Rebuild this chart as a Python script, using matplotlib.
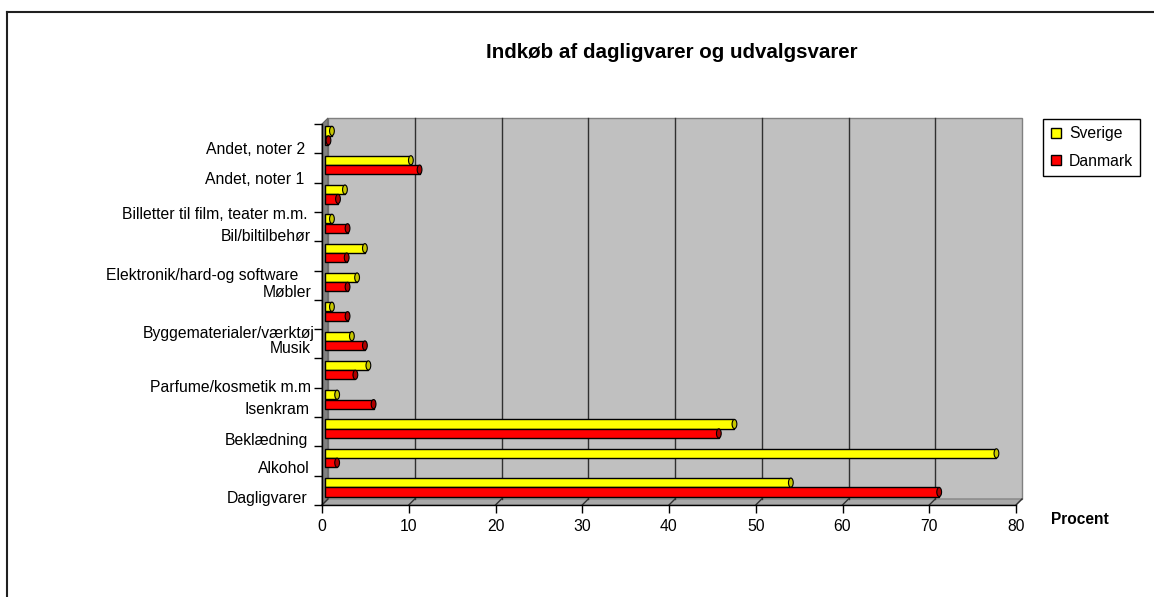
import numpy as np
import matplotlib
matplotlib.use("Agg")
import matplotlib.pyplot as plt
from matplotlib.patches import Rectangle, Polygon, Ellipse
from matplotlib.lines import Line2D
from matplotlib.transforms import ScaledTranslation, offset_copy

plt.rcParams['font.family'] = ['Liberation Sans', 'DejaVu Sans']

# categories, bottom to top
categories = ['Dagligvarer', 'Alkohol', 'Beklædning', 'Isenkram',
              'Parfume/kosmetik m.m', 'Musik', 'Byggematerialer/værktøj',
              'Møbler', 'Elektronik/hard-og software', 'Bil/biltilbehør',
              'Billetter til film, teater m.m.', 'Andet, noter 1', 'Andet, noter 2']
sverige = [53.7, 77.4, 47.2, 1.4, 5.0, 3.1, 0.8, 3.7, 4.6, 0.8, 2.3, 9.9, 0.8]
danmark = [70.8, 1.4, 45.4, 5.6, 3.5, 4.6, 2.6, 2.6, 2.5, 2.6, 1.5, 10.9, 0.4]
x_ticks = [0, 10, 20, 30, 40, 50, 60, 70, 80]

# label placement quirks (pixels): gap left of axis, shift down from category centre
label_gap = [15, 12, 14, 12, 11, 11, 7, 10, 24, 11, 15, 18, 17]
label_drop = [8, 7.5, 8.5, 7, 14.5, 5, 19, 7.5, 19.5, 10, 17.5, 12, 10.5]

W, H = 1154, 597
def fx(px):
    return px / W
def fy(py):
    return 1 - py / H

fig = plt.figure(figsize=(W / 100, H / 100), dpi=100)
ax = fig.add_axes([fx(322), fy(505), fx(1016) - fx(322), fy(124) - fy(505)])
ax.set_xlim(0, 80)
ax.set_ylim(-0.5, len(categories) - 0.5)
ax.patch.set_visible(False)

# 3d depth in axes fraction
dx = 6 / 694
dy = 6 / 381

# walls and floor
ax.add_patch(Rectangle((dx, dy), 1, 1, transform=ax.transAxes, fc='#C0C0C0',
                       ec='#808080', lw=1, zorder=0, clip_on=False))
ax.add_patch(Polygon([(0, 0), (0, 1), (dx, 1 + dy), (dx, dy)], closed=True,
                     transform=ax.transAxes, fc='#808080', ec='#606060', lw=0.8,
                     zorder=0.5, clip_on=False))
ax.add_patch(Polygon([(0, 0), (1, 0), (1 + dx, dy), (dx, dy)], closed=True,
                     transform=ax.transAxes, fc='#A8A8A8', ec='#808080', lw=0.8,
                     zorder=0.5, clip_on=False))

# gridlines on back wall + slanted ticks on the floor
for v in x_ticks:
    xa = v / 80
    if 0 < v < 80:
        ax.plot([xa + dx, xa + dx], [dy, 1 + dy], transform=ax.transAxes,
                color='#303030', lw=1, zorder=0.6, clip_on=False)
    ax.plot([xa, xa + dx], [0, dy], transform=ax.transAxes,
            color='#303030', lw=1, zorder=0.7, clip_on=False)

# bars at mid depth
off = ScaledTranslation(0.03, 0.03, fig.dpi_scale_trans)
pos = np.arange(len(categories))
bh = 0.31
cap_w = 0.55
for vals, yoff, col, capcol in [(sverige, 0.16, '#FFFF00', '#C8C800'),
                                 (danmark, -0.16, '#FF0000', '#B00000')]:
    bars = ax.barh(pos + yoff, vals, height=bh, color=col, edgecolor='black',
                   linewidth=1, zorder=2)
    for p in bars:
        p.set_transform(ax.transData + off)
        p.set_clip_on(False)
    for y, v in zip(pos + yoff, vals):
        ax.add_patch(Ellipse((v, y), cap_w, bh, fc=capcol, ec='black', lw=0.8,
                             transform=ax.transData + off, zorder=2.5, clip_on=False))

# axes
for s in ['top', 'right']:
    ax.spines[s].set_visible(False)
for s in ['left', 'bottom']:
    ax.spines[s].set_color('black')
    ax.spines[s].set_linewidth(1)
    ax.spines[s].set_zorder(3)
ax.set_xticks(x_ticks)
ax.set_xticklabels([str(t) for t in x_ticks])
ax.set_yticks(np.arange(-0.5, len(categories), 1))
ax.set_yticklabels([])
ax.tick_params(axis='both', direction='out', length=6, width=1, color='black')
ax.tick_params(axis='x', labelsize=11.3, pad=4)

for i, lab in enumerate(categories):
    tr = offset_copy(ax.get_yaxis_transform(), fig=fig, x=-label_gap[i],
                     y=-label_drop[i], units='dots')
    ax.text(0, i, lab, transform=tr, ha='right', va='center', fontsize=11.3)

fig.text(fx(672), fy(52), 'Indkøb af dagligvarer og udvalgsvarer',
         fontsize=14.8, fontweight='bold', ha='center', va='center')
fig.text(fx(1080), fy(520), 'Procent', fontsize=11.2, fontweight='bold',
         ha='center', va='center')

handles = [Line2D([], [], ls='none', marker='s', ms=7.5, mfc='#FFFF00', mec='black', mew=1),
           Line2D([], [], ls='none', marker='s', ms=7.5, mfc='#FF0000', mec='black', mew=1)]
leg = fig.legend(handles, ['Sverige', 'Danmark'], loc='upper left',
                 bbox_to_anchor=(fx(1043), fy(119)), fontsize=11.3, frameon=True,
                 fancybox=False, edgecolor='black', framealpha=1, borderpad=0.45,
                 labelspacing=0.8, handlelength=0.8, handletextpad=0.4,
                 borderaxespad=0)
leg.get_frame().set_linewidth(1)

# outer frame of the chart area
fig.add_artist(Line2D([fx(7), 1], [fy(12), fy(12)], color='#202020', lw=1.5))
fig.add_artist(Line2D([fx(7), fx(7)], [0, fy(12)], color='#202020', lw=1.5))

fig.savefig('out.png', dpi=100)
